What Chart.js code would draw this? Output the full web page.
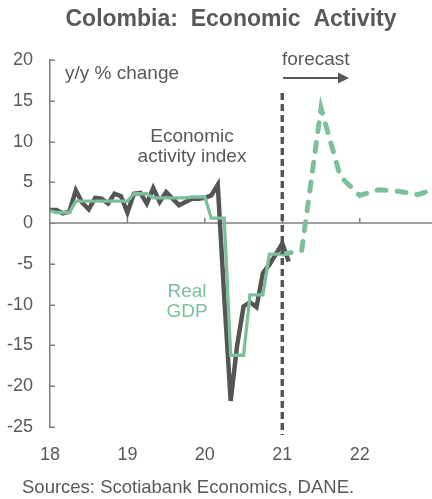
<!DOCTYPE html>
<html>
<head>
<meta charset="utf-8">
<title>Colombia: Economic Activity</title>
<script src="https://cdn.jsdelivr.net/npm/chart.js@4.4.1/dist/chart.umd.min.js"></script>
<style>
  html, body { margin: 0; padding: 0; background: #fff; }
  canvas { display: block; }
</style>
</head>
<body>
<canvas id="activityChart" width="432" height="499"></canvas>
<script>
// x positions are month indexes, 0 = Dec 2017
const yearTicks = [0, 12, 24, 36, 48];
const yearLabels = ["18", "19", "20", "21", "22"];

// Economic activity index, y/y %, monthly Dec 2017 - Jan 2021
const activityIndex = [
  1.6, 1.6, 1.2, 1.4, 4.0, 2.5, 1.7, 3.1, 3.0, 2.4, 3.6, 3.3,
  1.3, 3.6, 3.7, 2.4, 4.3, 2.6, 3.8, 3.0, 2.2, 2.6, 3.0, 3.0,
  3.1, 3.4, 4.7, -9.0, -21.8, -15.0, -10.2, -9.7, -10.3, -6.1, -5.1, -3.8,
  -2.5, -4.7,
];

// Real GDP, y/y %, quarterly Q4 2017 - Q4 2020
const gdpQuarterly = [1.5, 1.3, 2.7, 2.7, 2.7, 3.6, 3.1, 3.1, 3.2, 0.6, -16.2, -8.8, -3.8];

// Real GDP forecast, y/y %, quarterly Q4 2020 - Q4 2022
const gdpForecast = [-3.8, -3.4, 14.1, 5.7, 3.4, 4.1, 3.9, 3.5, 4.3];

const GREY = "#555555";
const TEXT = "#595959";
const AXIS = "#808080";
const GREEN = "#7dbf9b";
const FONT = '"Liberation Sans", Arial, sans-serif';

// monthly points for each series
const activityPoints = activityIndex.map((v, i) => ({ x: i, y: v }));

// each quarter held flat over its months (Q4 2017 only covers Dec)
const gdpPoints = [];
for (let k = 0; k <= 36; k++) {
  gdpPoints.push({ x: k, y: gdpQuarterly[Math.floor((k + 2) / 3)] });
}

const forecastPoints = gdpForecast.map((v, i) => ({ x: 36 + i * 3, y: v }));

// Axis lines, ticks, labels and notes drawn on the canvas
const chartNotes = {
  id: "chartNotes",
  beforeDatasetsDraw(chart) {
    const { ctx, chartArea, scales } = chart;
    const x = scales.x;
    const y = scales.y;
    const y0 = y.getPixelForValue(0);

    ctx.save();
    ctx.strokeStyle = AXIS;
    ctx.lineWidth = 1.5;
    ctx.beginPath();
    ctx.moveTo(chartArea.left, y0);
    ctx.lineTo(chartArea.right, y0);
    yearTicks.slice(1).forEach((v) => {
      const px = x.getPixelForValue(v);
      ctx.moveTo(px, y0);
      ctx.lineTo(px, y0 - 5);
    });
    for (let v = -25; v <= 20; v += 5) {
      const py = Math.round(y.getPixelForValue(v)) + 0.25;
      ctx.moveTo(chartArea.left, py);
      ctx.lineTo(chartArea.left + 5, py);
    }
    ctx.stroke();
    ctx.restore();
  },
  afterDatasetsDraw(chart) {
    const { ctx, scales } = chart;
    const x = scales.x;

    // forecast divider
    const xf = x.getPixelForValue(36);
    ctx.save();
    ctx.strokeStyle = GREY;
    ctx.lineWidth = 3.5;
    ctx.setLineDash([7, 4]);
    ctx.beginPath();
    ctx.moveTo(xf, 93);
    ctx.lineTo(xf, 435);
    ctx.stroke();
    ctx.setLineDash([]);

    // arrow under "forecast"
    ctx.strokeStyle = TEXT;
    ctx.fillStyle = TEXT;
    ctx.lineWidth = 2;
    ctx.beginPath();
    ctx.moveTo(283, 78);
    ctx.lineTo(340, 78);
    ctx.stroke();
    ctx.beginPath();
    ctx.moveTo(338, 72.5);
    ctx.lineTo(349, 78);
    ctx.lineTo(338, 83.5);
    ctx.closePath();
    ctx.fill();

    // title
    ctx.textBaseline = "middle";
    ctx.fillStyle = TEXT;
    ctx.textAlign = "center";
    ctx.font = "bold 23px " + FONT;
    ctx.fillText("Colombia:  Economic  Activity", 231, 20);

    // notes
    ctx.font = "19px " + FONT;
    ctx.textAlign = "left";
    ctx.fillText("y/y % change", 65, 74);
    ctx.fillText("forecast", 282, 60);

    ctx.textAlign = "center";
    ctx.fillText("Economic", 192, 137);
    ctx.fillText("activity index", 192, 157);

    ctx.fillStyle = GREEN;
    ctx.fillText("Real", 187, 292);
    ctx.fillText("GDP", 187, 312);

    ctx.fillStyle = TEXT;
    ctx.textAlign = "left";
    ctx.font = "18.5px " + FONT;
    ctx.fillText("Sources: Scotiabank Economics, DANE.", 22, 488);
    ctx.restore();
  },
};

const ctx = document.getElementById("activityChart");
new Chart(ctx, {
  type: "line",
  data: {
    datasets: [
      {
        label: "Real GDP",
        data: gdpPoints,
        borderColor: GREEN,
        borderWidth: 3.3,
        pointRadius: 0,
        tension: 0,
        order: 0,
      },
      {
        label: "Real GDP forecast",
        data: forecastPoints,
        borderColor: GREEN,
        borderWidth: 5,
        borderDash: [9, 11],
        borderCapStyle: "round",
        pointRadius: 0,
        tension: 0,
        order: 0,
      },
      {
        label: "Economic activity index",
        data: activityPoints,
        borderColor: GREY,
        borderWidth: 4.5,
        pointRadius: 0,
        tension: 0,
        order: 1,
      },
    ],
  },
  options: {
    responsive: false,
    animation: false,
    layout: { padding: { top: 60, right: 0, bottom: 0, left: 0 } },
    plugins: {
      legend: { display: false },
      tooltip: { enabled: false },
    },
    scales: {
      x: {
        type: "linear",
        min: 0,
        max: 59.2,
        afterFit: (scale) => {
          scale.height = 72;
        },
        afterBuildTicks: (scale) => {
          scale.ticks = yearTicks.map((v) => ({ value: v }));
        },
        ticks: {
          autoSkip: false,
          maxRotation: 0,
          padding: 17,
          color: TEXT,
          font: { family: FONT, size: 18 },
          callback: (v) => yearLabels[yearTicks.indexOf(v)],
        },
        grid: { display: false, drawTicks: false },
        border: { display: false },
      },
      y: {
        min: -25,
        max: 20,
        afterFit: (scale) => {
          scale.width = 50;
        },
        ticks: {
          stepSize: 5,
          padding: 17,
          color: TEXT,
          font: { family: FONT, size: 18 },
        },
        grid: { display: false, drawTicks: false },
        border: { color: AXIS, width: 1.5 },
      },
    },
  },
  plugins: [chartNotes],
});
</script>
</body>
</html>
